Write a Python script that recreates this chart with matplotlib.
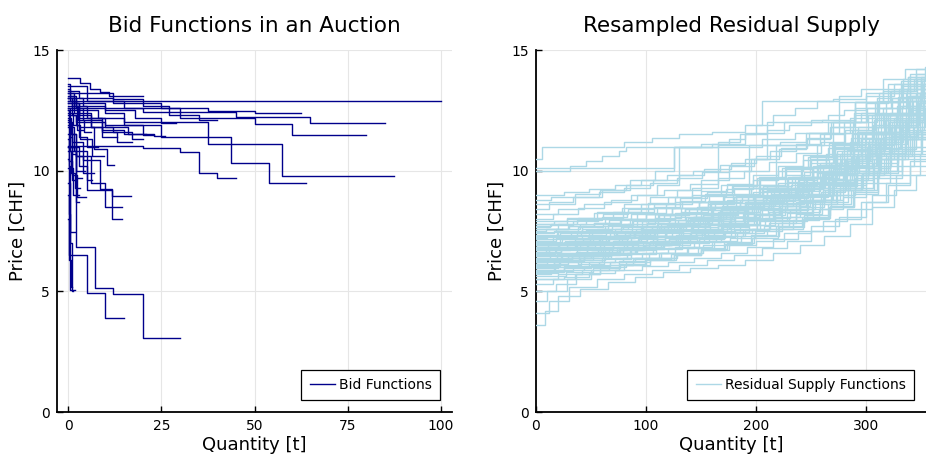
import matplotlib
matplotlib.use("Agg")
import matplotlib.pyplot as plt

# ---------------- Data: bid functions (left panel) ----------------
# each bid: quantity breakpoints (n+1) and prices (n), step function
bid_q = [
    [0, 1, 100],
    [0, 2, 10, 20, 45, 65, 85],
    [0, 5, 15, 30, 50, 60, 80],
    [0, 3, 12, 25, 37.5, 50, 62.4],
    [0, 2, 10, 15, 37.5, 57.5, 87.5],
    [0, 3, 10, 25, 43.8, 53.8, 63.7],
    [0, 20, 30, 35, 40, 45],
    [0, 4, 10, 18, 25, 28.8],
    [0, 3, 8, 15, 20, 22.9],
    [0, 2, 6, 12, 17, 20],
    [0, 3.2, 5.9, 8.5, 11, 20],
    [0, 5, 12, 20, 27, 35, 40],
    [0, 2.1, 7.1, 12, 20, 30],
    [0, 0.3, 5, 9.9, 14.9],
    [0, 1, 4, 8.6, 11.7, 16.9],
    [0, 2, 6, 10, 14.4],
    [0, 1.5, 5, 11.7, 14.4],
    [0, 3, 7, 10.5, 12.4],
    [0, 1, 2.5, 4.8],
    [0, 0.8, 1.8, 3.2],
    [0, 0.3, 0.6, 1.9],
    [0, 0.4, 0.9, 1.4],
    [0, 0.2, 0.7, 1.1],
    [0, 0.3, 0.5, 1.7],
    [0, 1, 2, 3, 5, 8],
    [0, 1.5, 3, 6, 9, 13],
    [0, 0.7, 2, 4, 7],
    [0, 1, 3, 5, 6.5],
    [0, 2, 5, 9, 13, 17],
    [0, 1, 4, 9, 15, 23, 26],
    [0, 0.5, 2, 4.5],
    [0, 1.2, 3.3, 6.3, 9.5],
    [0, 0.5, 1.5, 2.5, 4],
    [0, 0.3, 1, 2, 3],
    [0, 1.2, 2.8],
    [0, 0.6, 1.5, 2.6, 4.2, 6],
    [0, 2.5, 6, 10, 16, 21],
    [0, 0.4, 1.1, 2.2, 3.6],
]
bid_p = [
    [13.0, 12.9],
    [13.0, 12.8, 12.6, 12.45, 12.21, 11.96],
    [13.2, 12.9, 12.6, 12.2, 11.95, 11.49],
    [13.3, 13.0, 12.8, 12.58, 12.49, 12.38],
    [12.9, 12.6, 12.4, 12.03, 11.1, 9.79],
    [12.5, 12.2, 11.9, 11.41, 10.33, 9.5],
    [11.02, 10.93, 10.79, 9.92, 9.68],
    [13.0, 12.7, 12.5, 12.2, 11.96],
    [12.8, 12.5, 12.2, 11.9, 11.48],
    [12.3, 12.0, 11.8, 11.6, 11.3],
    [13.83, 13.62, 13.4, 13.25, 13.1],
    [13.5, 13.2, 12.95, 12.7, 12.3, 12.1],
    [11.0, 6.82, 5.12, 4.88, 3.05],
    [9.0, 6.5, 4.92, 3.88],
    [12.0, 11.2, 10.44, 9.23, 8.95],
    [11.5, 10.6, 9.5, 8.48],
    [11.8, 10.8, 9.2, 8.0],
    [12.6, 11.8, 10.9, 10.24],
    [11.0, 9.8, 8.92],
    [10.8, 9.9, 9.3],
    [12.5, 10.2, 7.47],
    [9.5, 7.0, 5.0],
    [8.0, 6.3, 5.2],
    [10.5, 8.2, 5.05],
    [12.8, 12.3, 11.9, 11.4, 11.0],
    [13.2, 12.8, 12.3, 11.8, 11.4],
    [12.2, 11.5, 10.6, 9.9],
    [11.9, 11.0, 10.2, 9.6],
    [13.1, 12.7, 12.2, 11.6, 11.2],
    [12.9, 12.6, 12.1, 11.7, 11.5, 11.45],
    [12.6, 10.8, 10.0],
    [12.4, 11.9, 11.3, 10.6],
    [13.4, 12.9, 12.4, 11.7],
    [11.3, 10.4, 9.6, 8.7],
    [10.1, 9.0],
    [13.6, 13.1, 12.7, 12.1, 11.6],
    [12.7, 12.4, 12.0, 11.8, 11.5],
    [12.1, 11.4, 10.7, 9.7],
]

# ---------------- Data: resampled residual supply (right panel) ----------------
# each curve: quantity knots and the price holding from that knot onwards
supply_q = [
    [0, 8, 20, 40, 65, 90, 115, 140, 165, 190, 215, 240, 262, 285, 305, 325, 345, 360],
    [0, 12, 30, 55, 80, 105, 130, 155, 180, 205, 228, 250, 272, 295, 318, 340, 360],
    [0, 10, 28, 50, 75, 100, 125, 150, 172, 196, 220, 243, 266, 288, 310, 333, 360],
    [0, 18, 36, 58, 82, 104, 128, 152, 176, 199, 224, 246, 268, 290, 312, 335, 360],
    [0, 20, 42, 66, 88, 112, 137, 160, 183, 207, 230, 252, 274, 296, 318, 340, 360],
    [0, 14, 34, 57, 79, 103, 126, 148, 171, 194, 217, 240, 262, 284, 306, 329, 350, 360],
    [0, 25, 48, 72, 96, 120, 144, 168, 190, 213, 236, 258, 279, 300, 322, 344, 360],
    [0, 16, 39, 61, 85, 109, 133, 156, 180, 203, 226, 249, 271, 292, 314, 337, 360],
    [0, 21, 44, 68, 91, 114, 138, 162, 185, 208, 231, 254, 276, 297, 320, 342, 360],
    [0, 11, 33, 56, 80, 104, 127, 151, 175, 198, 221, 244, 266, 287, 309, 331, 353, 360],
    [0, 27, 50, 74, 98, 121, 145, 169, 192, 216, 239, 261, 282, 303, 325, 347, 360],
    [0, 19, 41, 63, 87, 110, 134, 158, 181, 205, 228, 251, 273, 294, 316, 339, 360],
    [0, 13, 36, 59, 83, 106, 130, 154, 177, 200, 224, 247, 269, 290, 312, 334, 356, 360],
    [0, 24, 46, 70, 93, 117, 141, 165, 188, 211, 234, 257, 279, 300, 321, 343, 360],
    [0, 17, 40, 62, 86, 110, 134, 157, 181, 204, 227, 250, 272, 293, 315, 338, 360],
    [0, 9, 31, 54, 78, 101, 125, 149, 173, 196, 219, 243, 265, 287, 308, 330, 352, 360],
    [0, 23, 47, 71, 94, 118, 142, 166, 189, 212, 235, 258, 280, 301, 323, 345, 360],
    [0, 15, 37, 60, 84, 108, 131, 155, 179, 202, 225, 248, 270, 291, 313, 335, 357, 360],
    [0, 28, 52, 75, 99, 123, 147, 170, 193, 217, 240, 263, 284, 305, 327, 349, 360],
    [0, 20, 43, 65, 89, 112, 136, 160, 184, 207, 230, 253, 275, 296, 318, 341, 360],
    [0, 12, 35, 58, 81, 105, 129, 152, 176, 199, 222, 246, 268, 289, 311, 333, 355, 360],
    [0, 26, 49, 73, 97, 120, 144, 168, 191, 214, 237, 260, 281, 302, 324, 346, 360],
    [0, 18, 42, 64, 87, 111, 135, 159, 182, 206, 229, 252, 274, 295, 317, 339, 360],
    [0, 10, 32, 55, 79, 102, 126, 150, 174, 197, 220, 244, 266, 288, 309, 331, 353, 360],
    [0, 22, 45, 69, 92, 116, 139, 163, 187, 210, 233, 256, 278, 299, 320, 342, 360],
    [0, 16, 38, 61, 85, 108, 132, 156, 179, 203, 226, 249, 271, 292, 314, 336, 358, 360],
    [0, 29, 53, 76, 100, 124, 148, 171, 195, 218, 241, 264, 285, 306, 328, 350, 360],
    [0, 14, 37, 60, 83, 107, 131, 154, 178, 201, 224, 247, 269, 290, 312, 334, 356, 360],
    [0, 20, 44, 68, 92, 116, 140, 165, 189, 212, 236, 259, 281, 302, 324, 346, 360],
    [0, 12, 34, 57, 80, 104, 128, 151, 175, 198, 221, 245, 267, 289, 310, 332, 354, 360],
    [0, 25, 48, 72, 95, 119, 143, 167, 190, 213, 236, 258, 280, 301, 323, 345, 360],
    [0, 31, 45, 60, 75, 82, 125, 150, 175, 190, 210, 230, 250, 265, 280, 300, 320, 340, 360],
    [0, 5, 55, 80, 105, 130, 160, 190, 205, 240, 270, 300, 320, 340, 360],
    [0, 125, 165, 185, 200, 215, 235, 255, 275, 295, 315, 335, 360],
    [0, 20, 45, 70, 95, 120, 142, 165, 210, 248, 275, 300, 322, 344, 360],
    [0, 15, 38, 62, 86, 110, 130, 160, 190, 225, 260, 290, 315, 338, 360],
    [0, 28, 55, 80, 104, 128, 150, 175, 195, 210, 240, 275, 300, 325, 345, 360],
    [0, 22, 48, 72, 96, 122, 146, 170, 194, 218, 240, 262, 285, 308, 330, 350, 360],
    [0, 18, 40, 64, 90, 116, 140, 165, 190, 214, 238, 255, 280, 305, 330, 352, 360],
    [0, 30, 58, 85, 110, 136, 160, 185, 210, 235, 258, 270, 295, 318, 340, 360],
    [0, 12, 35, 60, 85, 108, 125, 150, 175, 205, 235, 265, 290, 315, 338, 360],
    [0, 24, 46, 70, 95, 118, 143, 168, 192, 215, 238, 262, 280, 300, 322, 345, 360],
    [0, 20, 42, 66, 92, 118, 142, 168, 194, 222, 245, 268, 290, 312, 334, 356, 360],
    [0, 16, 40, 65, 90, 115, 140, 165, 190, 215, 240, 265, 285, 305, 325, 345, 360],
    [0, 25, 50, 75, 100, 125, 150, 175, 200, 225, 250, 275, 300, 320, 340, 360],
    [0, 20, 44, 68, 92, 116, 140, 164, 188, 212, 236, 260, 284, 306, 328, 350, 360],
    [0, 14, 36, 60, 84, 108, 132, 156, 180, 204, 228, 252, 276, 300, 322, 344, 360],
    [0, 19, 37, 58, 80, 101, 124, 147, 170, 193, 215, 238, 260, 282, 303, 325, 347, 360],
    [0, 11, 29, 52, 76, 99, 123, 146, 170, 193, 217, 240, 263, 285, 307, 329, 351, 360],
    [0, 26, 51, 77, 101, 126, 150, 174, 198, 221, 244, 266, 288, 309, 331, 353, 360],
    [0, 17, 39, 62, 86, 109, 133, 157, 181, 204, 228, 251, 273, 295, 316, 338, 360],
    [0, 21, 43, 67, 91, 114, 138, 161, 185, 209, 232, 255, 277, 299, 321, 343, 360],
    [0, 9, 30, 53, 77, 100, 124, 148, 171, 195, 218, 242, 264, 286, 307, 329, 351, 360],
    [0, 23, 46, 69, 93, 117, 141, 165, 189, 212, 236, 259, 281, 302, 323, 345, 360],
    [0, 13, 35, 57, 81, 104, 128, 152, 176, 199, 222, 245, 268, 289, 311, 333, 355, 360],
    [0, 27, 52, 76, 99, 123, 147, 171, 195, 218, 242, 265, 286, 307, 329, 351, 360],
    [0, 18, 41, 63, 87, 111, 135, 158, 182, 206, 229, 252, 274, 296, 318, 340, 360],
    [0, 10, 33, 56, 79, 103, 127, 151, 174, 198, 221, 245, 267, 289, 310, 332, 354, 360],
    [0, 25, 49, 72, 96, 120, 144, 167, 191, 214, 238, 261, 283, 304, 326, 348, 360],
    [0, 16, 38, 61, 84, 107, 131, 155, 179, 203, 226, 249, 271, 293, 315, 337, 359],
    [0, 20, 44, 67, 90, 114, 138, 162, 186, 210, 234, 257, 279, 300, 322, 344, 360],
    [0, 12, 36, 59, 83, 107, 130, 154, 178, 202, 225, 248, 270, 292, 314, 336, 358, 360],
    [0, 15, 35, 58, 80, 104, 127, 150, 174, 198, 221, 244, 267, 289, 311, 333, 355, 360],
    [0, 22, 44, 66, 88, 110, 132, 154, 176, 198, 220, 242, 264, 286, 308, 330, 352, 360],
    [0, 18, 40, 63, 86, 110, 133, 157, 180, 204, 227, 250, 272, 294, 316, 338, 360],
    [0, 26, 50, 75, 99, 124, 148, 172, 196, 220, 244, 267, 289, 311, 333, 355, 360],
    [0, 14, 35, 58, 82, 106, 130, 153, 177, 200, 223, 246, 268, 290, 311, 333, 355, 360],
    [0, 20, 41, 63, 86, 108, 131, 154, 177, 200, 223, 246, 269, 291, 313, 335, 357, 360],
    [0, 11, 31, 52, 74, 97, 121, 145, 169, 193, 216, 239, 261, 283, 305, 327, 349, 360],
    [0, 24, 47, 71, 95, 119, 143, 167, 190, 213, 236, 259, 281, 302, 324, 346, 360],
    [0, 17, 39, 61, 83, 106, 129, 153, 176, 199, 222, 245, 267, 289, 311, 333, 355, 360],
    [0, 25, 48, 72, 96, 120, 144, 168, 192, 215, 238, 261, 283, 305, 327, 349, 360],
    [0, 13, 34, 56, 79, 102, 126, 150, 173, 197, 220, 243, 265, 287, 309, 331, 353, 360],
    [0, 21, 43, 66, 89, 112, 136, 159, 183, 206, 229, 252, 274, 296, 317, 339, 360],
    [0, 9, 29, 51, 74, 97, 121, 145, 168, 192, 215, 239, 261, 283, 305, 327, 349, 360],
    [0, 28, 53, 78, 102, 126, 150, 174, 197, 220, 243, 266, 287, 308, 329, 350, 360],
    [0, 16, 38, 60, 83, 106, 130, 153, 177, 201, 224, 247, 270, 292, 314, 336, 358, 360],
    [0, 19, 42, 65, 88, 112, 135, 159, 182, 205, 228, 251, 273, 295, 317, 339, 360],
    [0, 23, 46, 70, 94, 118, 142, 166, 190, 214, 238, 262, 272, 296, 318, 340, 360],
    [0, 15, 37, 60, 84, 108, 132, 156, 180, 204, 228, 252, 276, 288, 310, 333, 355, 360],
]
supply_p = [
    [3.6, 4.2, 4.8, 5.1, 5.4, 5.6, 5.8, 5.95, 6.1, 6.3, 6.6, 6.9, 7.3, 7.8, 8.5, 9.2, 9.8, 10.2],
    [4.1, 4.6, 5.2, 5.5, 5.7, 5.9, 6.1, 6.3, 6.5, 6.8, 7.1, 7.5, 8.0, 8.7, 9.5, 10.4, 11.0],
    [4.6, 5.0, 5.5, 5.9, 6.1, 6.3, 6.5, 6.7, 6.95, 7.2, 7.6, 8.0, 8.5, 9.2, 10.0, 10.8, 11.5],
    [5.0, 5.3, 5.7, 6.0, 6.2, 6.4, 6.6, 6.9, 7.2, 7.5, 7.9, 8.4, 9.0, 9.7, 10.5, 11.3, 12.0],
    [5.5, 5.7, 5.9, 6.1, 6.35, 6.6, 6.85, 7.1, 7.4, 7.7, 8.1, 8.6, 9.2, 9.9, 10.7, 11.5, 12.1],
    [5.7, 5.85, 6.0, 6.2, 6.4, 6.6, 6.85, 7.15, 7.45, 7.75, 8.1, 8.5, 9.0, 9.6, 10.3, 11.0, 11.7, 12.0],
    [5.9, 6.05, 6.2, 6.4, 6.6, 6.8, 7.05, 7.3, 7.6, 7.95, 8.3, 8.8, 9.4, 10.1, 10.9, 11.8, 12.4],
    [6.0, 6.2, 6.4, 6.55, 6.75, 7.0, 7.25, 7.5, 7.8, 8.15, 8.55, 9.0, 9.6, 10.3, 11.1, 12.0, 12.7],
    [6.1, 6.25, 6.4, 6.6, 6.8, 7.0, 7.2, 7.45, 7.75, 8.05, 8.4, 8.8, 9.3, 9.9, 10.6, 11.4, 12.0],
    [6.2, 6.35, 6.5, 6.7, 6.9, 7.1, 7.35, 7.6, 7.9, 8.2, 8.6, 9.05, 9.6, 10.2, 10.9, 11.7, 12.5, 12.8],
    [6.25, 6.4, 6.55, 6.7, 6.9, 7.15, 7.4, 7.7, 8.0, 8.35, 8.75, 9.2, 9.8, 10.5, 11.3, 12.2, 12.8],
    [6.3, 6.45, 6.6, 6.8, 7.0, 7.25, 7.5, 7.75, 8.05, 8.4, 8.8, 9.3, 9.9, 10.6, 11.4, 12.3, 13.0],
    [6.4, 6.5, 6.65, 6.85, 7.05, 7.3, 7.55, 7.8, 8.1, 8.45, 8.85, 9.3, 9.85, 10.5, 11.2, 12.0, 12.7, 12.9],
    [6.5, 6.6, 6.75, 6.95, 7.15, 7.4, 7.65, 7.9, 8.2, 8.55, 8.95, 9.4, 10.0, 10.7, 11.5, 12.4, 13.1],
    [6.55, 6.7, 6.85, 7.0, 7.2, 7.45, 7.7, 8.0, 8.3, 8.65, 9.05, 9.55, 10.1, 10.8, 11.6, 12.5, 13.2],
    [6.6, 6.7, 6.85, 7.05, 7.25, 7.5, 7.75, 8.0, 8.3, 8.6, 9.0, 9.45, 10.0, 10.6, 11.3, 12.1, 12.9, 13.2],
    [6.65, 6.8, 6.95, 7.1, 7.3, 7.55, 7.8, 8.1, 8.4, 8.75, 9.15, 9.65, 10.25, 11.0, 11.8, 12.7, 13.3],
    [6.7, 6.8, 6.95, 7.15, 7.35, 7.55, 7.8, 8.1, 8.4, 8.7, 9.1, 9.5, 10.0, 10.6, 11.3, 12.1, 12.8, 13.0],
    [6.75, 6.9, 7.05, 7.25, 7.45, 7.7, 7.95, 8.25, 8.55, 8.9, 9.3, 9.8, 10.4, 11.1, 11.9, 12.8, 13.4],
    [6.8, 6.9, 7.05, 7.2, 7.4, 7.6, 7.85, 8.15, 8.45, 8.8, 9.2, 9.7, 10.3, 11.0, 11.8, 12.6, 13.2],
    [6.9, 7.0, 7.15, 7.3, 7.5, 7.7, 7.95, 8.25, 8.55, 8.9, 9.3, 9.75, 10.3, 10.9, 11.6, 12.4, 13.2, 13.4],
    [7.0, 7.1, 7.25, 7.4, 7.6, 7.85, 8.1, 8.4, 8.7, 9.05, 9.45, 9.95, 10.5, 11.2, 12.0, 12.9, 13.6],
    [7.1, 7.2, 7.35, 7.5, 7.7, 7.95, 8.2, 8.5, 8.8, 9.15, 9.55, 10.0, 10.6, 11.3, 12.1, 12.9, 13.6],
    [7.2, 7.3, 7.45, 7.6, 7.8, 8.0, 8.25, 8.5, 8.8, 9.1, 9.5, 9.95, 10.5, 11.1, 11.8, 12.6, 13.4, 13.7],
    [7.3, 7.4, 7.55, 7.7, 7.9, 8.15, 8.4, 8.7, 9.0, 9.35, 9.75, 10.25, 10.8, 11.5, 12.3, 13.1, 13.8],
    [7.4, 7.5, 7.65, 7.8, 8.0, 8.2, 8.45, 8.75, 9.05, 9.4, 9.8, 10.3, 10.9, 11.6, 12.4, 13.2, 13.9, 14.0],
    [7.6, 7.7, 7.85, 8.0, 8.2, 8.45, 8.7, 9.0, 9.3, 9.7, 10.1, 10.6, 11.2, 11.9, 12.7, 13.6, 14.1],
    [7.7, 7.8, 7.95, 8.1, 8.3, 8.5, 8.75, 9.05, 9.35, 9.7, 10.1, 10.55, 11.1, 11.8, 12.6, 13.4, 14.1, 14.3],
    [8.2, 8.4, 8.6, 8.8, 9.0, 9.2, 9.45, 9.7, 10.0, 10.35, 10.75, 11.2, 11.7, 12.3, 13.0, 13.8, 14.3],
    [8.6, 8.7, 8.9, 9.1, 9.3, 9.5, 9.7, 9.95, 10.2, 10.5, 10.9, 11.3, 11.8, 12.4, 13.0, 13.7, 14.3, 14.4],
    [9.0, 9.1, 9.25, 9.4, 9.6, 9.8, 10.0, 10.25, 10.5, 10.8, 11.1, 11.5, 12.0, 12.6, 13.3, 14.0, 14.5],
    [10.0, 10.2, 10.4, 10.6, 10.8, 11.0, 11.0, 11.1, 11.3, 11.5, 11.7, 11.9, 12.1, 12.3, 12.5, 12.8, 13.2, 13.6, 14.0],
    [10.5, 11.0, 11.0, 11.2, 11.35, 11.5, 11.6, 11.9, 12.9, 12.9, 12.95, 13.2, 13.6, 14.0, 14.4],
    [10.1, 11.0, 11.2, 11.5, 11.9, 12.3, 12.6, 12.9, 13.1, 13.4, 13.8, 14.2, 14.6],
    [7.6, 7.8, 8.0, 8.3, 8.6, 8.9, 9.3, 11.07, 11.07, 11.55, 12.03, 12.86, 13.3, 13.8, 14.2],
    [8.0, 8.2, 8.45, 8.7, 9.0, 9.4, 11.0, 11.1, 11.55, 12.03, 12.1, 12.86, 13.3, 13.9, 14.4],
    [7.8, 8.0, 8.3, 8.6, 8.9, 9.2, 9.6, 10.0, 10.5, 12.03, 12.03, 12.86, 13.1, 13.6, 14.2, 14.6],
    [7.0, 7.2, 7.4, 7.6, 7.9, 8.2, 8.5, 8.9, 9.4, 11.07, 11.07, 11.55, 12.2, 12.86, 13.4, 13.9, 14.1],
    [6.6, 6.8, 7.0, 7.2, 7.4, 7.7, 8.0, 8.3, 8.7, 9.1, 9.6, 11.07, 11.55, 12.3, 13.0, 13.6, 13.8],
    [6.9, 7.1, 7.3, 7.5, 7.8, 8.1, 8.45, 8.8, 9.2, 9.7, 10.3, 12.03, 12.4, 12.86, 13.5, 14.0],
    [8.4, 8.6, 8.9, 9.2, 9.6, 10.0, 11.0, 11.0, 11.0, 11.3, 11.55, 12.03, 12.86, 13.4, 13.9, 14.5],
    [6.4, 6.6, 6.8, 7.0, 7.25, 7.5, 7.8, 8.1, 8.45, 8.85, 9.3, 9.9, 11.07, 11.6, 12.4, 13.2, 13.6],
    [7.3, 7.5, 7.7, 7.95, 8.25, 8.6, 9.0, 9.4, 11.07, 11.2, 11.55, 12.03, 12.6, 13.2, 13.8, 14.4, 14.6],
    [6.0, 6.2, 6.4, 6.6, 6.85, 7.1, 7.4, 7.7, 8.0, 8.4, 8.9, 9.5, 10.2, 11.07, 11.8, 12.6, 13.2],
    [5.8, 5.95, 6.1, 6.25, 6.4, 6.55, 6.7, 6.9, 7.1, 7.4, 7.7, 8.1, 8.7, 9.4, 10.2, 10.8],
    [6.2, 6.3, 6.45, 6.6, 6.75, 6.9, 7.1, 7.3, 7.55, 7.85, 8.2, 8.7, 9.3, 10.0, 10.7, 11.3, 11.5],
    [6.9, 7.0, 7.1, 7.2, 7.35, 7.5, 7.7, 7.9, 8.1, 8.35, 8.65, 9.0, 9.5, 10.1, 10.8, 11.5, 11.9],
    [6.45, 6.55, 6.7, 6.9, 7.1, 7.3, 7.55, 7.8, 8.1, 8.4, 8.8, 9.25, 9.8, 10.5, 11.3, 12.2, 13.0, 13.3],
    [6.05, 6.15, 6.3, 6.5, 6.7, 6.9, 7.1, 7.35, 7.65, 7.95, 8.3, 8.7, 9.2, 9.8, 10.5, 11.3, 12.1, 12.4],
    [7.15, 7.3, 7.45, 7.65, 7.85, 8.1, 8.35, 8.65, 8.95, 9.3, 9.7, 10.2, 10.8, 11.5, 12.3, 13.2, 13.5],
    [5.9, 6.0, 6.15, 6.35, 6.55, 6.75, 7.0, 7.25, 7.55, 7.9, 8.25, 8.7, 9.2, 9.8, 10.5, 11.3, 12.0],
    [6.85, 7.0, 7.2, 7.4, 7.6, 7.8, 8.05, 8.35, 8.65, 9.0, 9.4, 9.9, 10.5, 11.2, 12.0, 12.9, 13.6],
    [7.5, 7.6, 7.7, 7.85, 8.0, 8.2, 8.45, 8.7, 9.0, 9.3, 9.7, 10.15, 10.7, 11.35, 12.1, 12.9, 13.7, 14.0],
    [6.35, 6.45, 6.6, 6.8, 7.0, 7.2, 7.45, 7.7, 8.0, 8.3, 8.7, 9.1, 9.6, 10.2, 10.9, 11.7, 12.2],
    [6.7, 6.85, 7.0, 7.15, 7.35, 7.6, 7.85, 8.15, 8.45, 8.8, 9.2, 9.7, 10.3, 11.0, 11.8, 12.7, 13.5, 13.7],
    [5.65, 5.8, 5.95, 6.15, 6.35, 6.55, 6.8, 7.05, 7.35, 7.7, 8.1, 8.6, 9.2, 9.9, 10.7, 11.5, 11.9],
    [7.25, 7.35, 7.5, 7.7, 7.9, 8.15, 8.4, 8.7, 9.0, 9.35, 9.75, 10.2, 10.8, 11.5, 12.3, 13.2, 13.9],
    [6.15, 6.3, 6.45, 6.6, 6.8, 7.0, 7.25, 7.5, 7.8, 8.15, 8.55, 9.0, 9.55, 10.2, 10.95, 11.8, 12.6, 12.9],
    [6.95, 7.05, 7.2, 7.35, 7.55, 7.75, 8.0, 8.3, 8.6, 8.95, 9.35, 9.85, 10.4, 11.1, 11.9, 12.8, 13.3],
    [7.8, 7.9, 8.05, 8.2, 8.4, 8.6, 8.85, 9.1, 9.4, 9.75, 10.15, 10.6, 11.15, 11.8, 12.6, 13.4, 14.2],
    [5.75, 5.9, 6.05, 6.2, 6.4, 6.6, 6.8, 7.05, 7.3, 7.6, 7.95, 8.4, 8.9, 9.5, 10.2, 11.0, 11.6],
    [6.6, 6.75, 6.9, 7.05, 7.25, 7.45, 7.7, 8.0, 8.3, 8.65, 9.05, 9.5, 10.05, 10.7, 11.5, 12.3, 13.1, 13.2],
    [5.3, 5.5, 5.7, 5.9, 6.1, 6.3, 6.5, 6.75, 7.0, 7.3, 7.65, 8.05, 8.5, 9.1, 9.8, 10.6, 11.3, 11.5],
    [6.05, 6.3, 6.55, 6.8, 7.05, 7.3, 7.6, 7.9, 8.25, 8.6, 9.0, 9.45, 10.0, 10.6, 11.3, 12.1, 12.9, 13.1],
    [7.45, 7.6, 7.8, 8.0, 8.2, 8.45, 8.7, 9.0, 9.3, 9.65, 10.05, 10.5, 11.0, 11.6, 12.3, 13.1, 13.8],
    [6.5, 6.55, 6.65, 6.75, 6.9, 7.05, 7.2, 7.4, 7.6, 7.85, 8.15, 8.55, 9.05, 9.7, 10.5, 11.4, 11.6],
    [8.8, 8.9, 9.05, 9.2, 9.4, 9.6, 9.8, 10.05, 10.3, 10.6, 10.95, 11.35, 11.8, 12.3, 12.9, 13.6, 14.3, 14.5],
    [5.95, 6.1, 6.3, 6.5, 6.7, 6.95, 7.2, 7.45, 7.75, 8.05, 8.4, 8.8, 9.3, 9.9, 10.6, 11.4, 12.2, 12.3],
    [6.75, 6.9, 7.05, 7.25, 7.45, 7.7, 7.95, 8.25, 8.55, 8.9, 9.3, 9.75, 10.25, 10.85, 11.55, 12.35, 13.2, 13.6],
    [7.05, 7.15, 7.3, 7.45, 7.65, 7.85, 8.1, 8.35, 8.6, 8.9, 9.25, 9.65, 10.15, 10.75, 11.45, 12.3, 12.8],
    [6.3, 6.4, 6.55, 6.7, 6.9, 7.1, 7.35, 7.6, 7.9, 8.2, 8.55, 8.95, 9.45, 10.0, 10.7, 11.5, 12.3, 12.5],
    [5.5, 5.6, 5.75, 5.9, 6.05, 6.2, 6.4, 6.6, 6.85, 7.15, 7.5, 7.9, 8.4, 9.0, 9.8, 10.7, 11.2],
    [7.65, 7.75, 7.9, 8.05, 8.25, 8.45, 8.7, 8.95, 9.25, 9.6, 10.0, 10.45, 10.95, 11.5, 12.2, 13.0, 13.8, 14.0],
    [6.85, 6.95, 7.1, 7.25, 7.45, 7.65, 7.9, 8.2, 8.5, 8.85, 9.25, 9.7, 10.2, 10.8, 11.5, 12.3, 13.0],
    [6.2, 6.3, 6.45, 6.65, 6.85, 7.05, 7.3, 7.55, 7.85, 8.2, 8.6, 9.05, 9.55, 10.1, 10.8, 11.6, 12.4, 12.7],
    [7.9, 8.05, 8.25, 8.45, 8.65, 8.9, 9.15, 9.45, 9.8, 10.2, 10.65, 11.15, 11.7, 12.35, 13.05, 13.8, 14.2],
    [5.85, 6.0, 6.2, 6.4, 6.6, 6.8, 7.05, 7.3, 7.6, 7.95, 8.35, 8.8, 9.35, 10.0, 10.75, 11.6, 12.4, 12.5],
    [7.35, 7.45, 7.6, 7.75, 7.95, 8.15, 8.4, 8.65, 8.95, 9.3, 9.7, 10.15, 10.7, 11.35, 12.1, 12.9, 13.5],
    [6.6, 6.75, 6.9, 7.1, 7.3, 7.55, 7.8, 8.1, 8.45, 8.85, 9.3, 9.9, 11.07, 11.55, 12.3, 13.1, 13.7],
    [7.1, 7.25, 7.4, 7.6, 7.8, 8.05, 8.3, 8.6, 8.9, 9.25, 9.65, 10.1, 10.7, 12.03, 12.86, 13.5, 14.1, 14.3],
]

titles = ["Bid Functions in an Auction", "Resampled Residual Supply"]
xlabel = "Quantity [t]"
ylabel = "Price [CHF]"
legend_labels = ["Bid Functions", "Residual Supply Functions"]
left_xticks = [0, 25, 50, 75, 100]
right_xticks = [0, 100, 200, 300]
yticks = [0, 5, 10, 15]

# ---------------- Figure ----------------
plt.rcParams['font.family'] = ['DejaVu Sans']
W, H = 926, 461
fig = plt.figure(figsize=(W / 100, H / 100), dpi=100)

def px_axes(x0, y0, x1, y1):
    return fig.add_axes([x0 / W, 1 - y1 / H, (x1 - x0) / W, (y1 - y0) / H])

axL = px_axes(57, 50, 452, 412)
axR = px_axes(536, 50, 926, 412)

bid_color = '#00008B'
sup_color = '#ADD8E6'

for i, (q, p) in enumerate(zip(bid_q, bid_p)):
    axL.plot(q, list(p) + [p[-1]], drawstyle='steps-post', color=bid_color,
             lw=1.0, label=legend_labels[0] if i == 0 else None, zorder=3)

for i, (q, p) in enumerate(zip(supply_q, supply_p)):
    axR.plot(q, p, drawstyle='steps-post', color=sup_color,
             lw=1.0, label=legend_labels[1] if i == 0 else None, zorder=3)

for ax, title, xt in [(axL, titles[0], left_xticks), (axR, titles[1], right_xticks)]:
    ax.set_title(title, fontsize=15.5, pad=13)
    ax.set_xlabel(xlabel, fontsize=13, labelpad=2)
    ax.set_ylabel(ylabel, fontsize=13, labelpad=4)
    ax.set_xticks(xt)
    ax.set_yticks(yticks)
    ax.set_ylim(0, 15)
    ax.grid(True, color='#e6e6e6', lw=0.8, zorder=0)
    ax.set_axisbelow(True)
    for s in ['top', 'right']:
        ax.spines[s].set_visible(False)
    for s in ['left', 'bottom']:
        ax.spines[s].set_linewidth(1.3)
        ax.spines[s].set_color('black')
    ax.tick_params(direction='in', length=4, width=1.0, labelsize=10, pad=5)
    leg = ax.legend(loc='lower right', fontsize=10, fancybox=False, framealpha=1,
                    edgecolor='black', borderaxespad=0.85, handlelength=1.8,
                    handletextpad=0.3, borderpad=0.6)
    leg.get_frame().set_linewidth(0.9)

axL.set_xlim(-3, 103)
axR.set_xlim(0, 354.5)

fig.savefig('out.png', dpi=100)
